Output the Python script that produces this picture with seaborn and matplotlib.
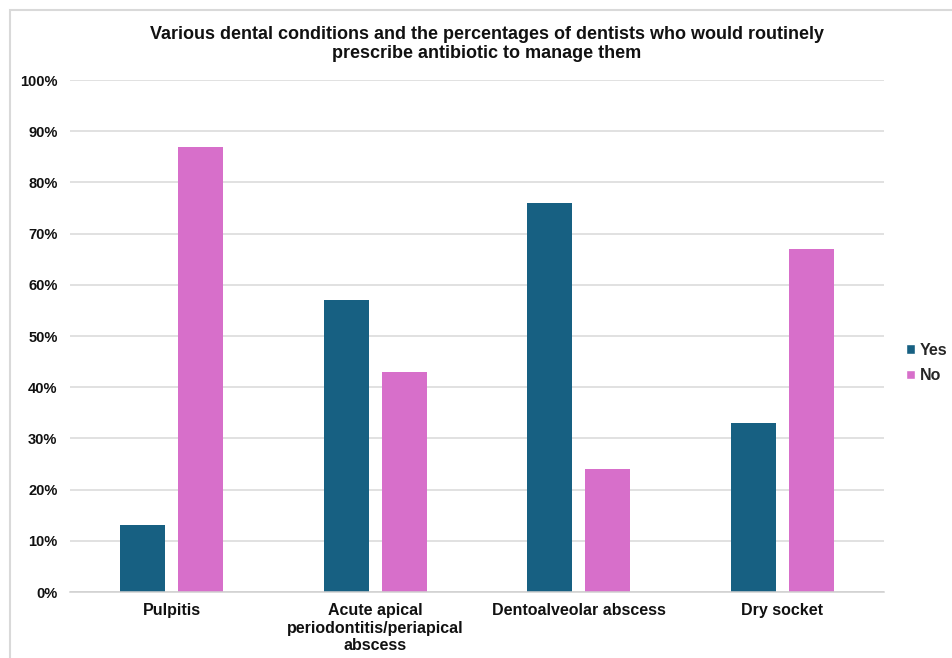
import matplotlib
matplotlib.use("Agg")
import matplotlib.pyplot as plt
from matplotlib.patches import Rectangle
from matplotlib.ticker import FixedLocator, PercentFormatter
import pandas as pd
import seaborn as sns

# Survey data: share of dentists who would routinely prescribe antibiotics
conditions = [
    "Pulpitis",
    "Acute apical\nperiodontitis/periapical\nabscess",
    "Dentoalveolar abscess",
    "Dry socket",
]
yes_pct = [13, 57, 76, 33]
no_pct = [87, 43, 24, 67]
answers = ["Yes", "No"]
colors = {"Yes": "#176082", "No": "#D76FCA"}
y_ticks = list(range(0, 101, 10))

df = pd.DataFrame({
    "condition": conditions * 2,
    "answer": ["Yes"] * len(conditions) + ["No"] * len(conditions),
    "pct": yes_pct + no_pct,
})

sns.set_theme(style="white")
plt.rcParams["font.family"] = ["Liberation Sans", "DejaVu Sans"]
plt.rcParams["font.weight"] = "bold"

fig = plt.figure(figsize=(9.52, 6.58), dpi=100)
fig.patch.set_facecolor("white")
ax = fig.add_axes([70 / 952, 1 - 592 / 658, (884 - 70) / 952, (592 - 80) / 658])

sns.barplot(
    data=df, x="condition", y="pct", hue="answer", hue_order=answers,
    order=conditions, palette=colors, width=0.566, gap=0.22,
    saturation=1, ax=ax, legend=True, edgecolor="none",
)

ax.set_xlim(-0.5, len(conditions) - 0.5)
ax.set_ylim(0, 100)
ax.set_yticks(y_ticks)
ax.yaxis.set_major_formatter(PercentFormatter(decimals=0))
ax.grid(axis="y", color="#D9D9D9", linewidth=1.1)
ax.set_axisbelow(True)
ax.set_xlabel("")
ax.set_ylabel("")

for side in ["left", "right", "top"]:
    ax.spines[side].set_visible(False)
ax.spines["bottom"].set_color("#D0D0D0")
ax.spines["bottom"].set_linewidth(1.1)

ax.tick_params(axis="y", length=0, pad=9, labelsize=10.5, labelcolor="#111111")
ax.tick_params(axis="x", which="major", length=0, pad=8, labelsize=11.5,
               labelcolor="#111111")
ax.xaxis.set_minor_locator(FixedLocator([i - 0.5 for i in range(len(conditions) + 1)]))
ax.tick_params(axis="x", which="minor", length=4, width=1.1, color="#D0D0D0",
               direction="out")
for lbl in ax.get_xticklabels():
    lbl.set_fontweight("bold")
    lbl.set_linespacing(1.22)
for lbl in ax.get_yticklabels():
    lbl.set_fontweight("bold")

ax.get_legend().remove()
handles = [Rectangle((0, 0), 1, 1, facecolor=colors[a]) for a in answers]
fig.legend(
    handles, answers, loc="center left", bbox_to_anchor=(906 / 952, 1 - 363 / 658),
    frameon=False, handlelength=0.55, handleheight=0.55,
    handletextpad=0.3, labelspacing=0.65, borderpad=0, borderaxespad=0,
    prop={"weight": "bold", "size": 11.5},
)

fig.text(
    487 / 952, 1 - 44 / 658,
    "Various dental conditions and the percentages of dentists who would routinely\n"
    "prescribe antibiotic to manage them",
    ha="center", va="center", fontsize=13, fontweight="bold", color="#111111",
    linespacing=1.22,
)

# Light frame around the chart area
fig.patches.append(Rectangle(
    (10 / 952, -0.5), 2.0, 0.5 + 1 - 10 / 658, transform=fig.transFigure,
    fill=False, edgecolor="#D9D9D9", linewidth=1.5,
))

fig.savefig("out.png", dpi=100, facecolor="white")
